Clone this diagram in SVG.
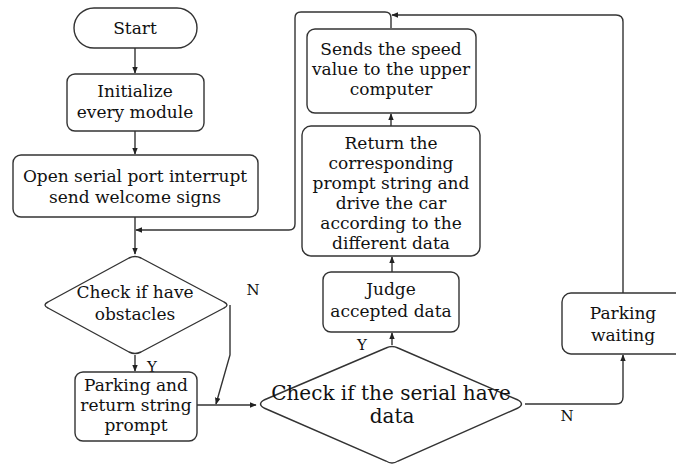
<svg xmlns="http://www.w3.org/2000/svg" width="676" height="466" viewBox="0 0 676 466">
<defs>
<marker id="ah" viewBox="0 0 10 10" refX="9" refY="5" markerWidth="7" markerHeight="7" orient="auto" markerUnits="userSpaceOnUse">
<path d="M0,1 L10,5 L0,9 z" fill="#222"/>
</marker>
<style>
.n{fill:#fff;stroke:#333;stroke-width:1.4}
.t{font-family:"DejaVu Serif","Liberation Serif",serif;font-size:17px;fill:#111;text-anchor:middle}
.big{font-size:20px}
.lb{font-family:"DejaVu Serif","Liberation Serif",serif;font-size:15px;fill:#111;text-anchor:middle}
.c{fill:none;stroke:#333;stroke-width:1.4}
</style>
</defs>
<rect width="676" height="466" fill="#fff"/>
<g id="connectors">
<path class="c" d="M135,48 V73" marker-end="url(#ah)"/>
<path class="c" d="M135,131 V154" marker-end="url(#ah)"/>
<path class="c" d="M135,217 V254" marker-end="url(#ah)"/>
<path class="c" d="M391,28 V18 Q391,12 385,12 H301 Q295,12 295,18 V224 Q295,230 289,230 H136" marker-end="url(#ah)"/>
<path class="c" d="M135,355 V371" marker-end="url(#ah)"/>
<path class="c" d="M230,305 V355 L216,404" marker-end="url(#ah)"/>
<path class="c" d="M197,405 H256" marker-end="url(#ah)"/>
<path class="c" d="M392,345 V333" marker-end="url(#ah)"/>
<path class="c" d="M392,272 V257" marker-end="url(#ah)"/>
<path class="c" d="M391,126 V114" marker-end="url(#ah)"/>
<path class="c" d="M525,404 H616 Q623,404 623,397 V355" marker-end="url(#ah)"/>
<path class="c" d="M623,293 V22 Q623,15 616,15 H392" marker-end="url(#ah)"/>
<text class="lb" x="253" y="295">N</text>
<text class="lb" x="152" y="372">Y</text>
<text class="lb" x="362" y="350">Y</text>
<text class="lb" x="567" y="421">N</text>
</g>
<g id="start">
<rect class="n" x="74" y="8" width="123" height="40" rx="20"/>
<text class="t" x="135" y="34">Start</text>
</g>
<g id="init">
<rect class="n" x="67" y="74" width="137" height="57" rx="8"/>
<text class="t" x="135" y="97">Initialize</text>
<text class="t" x="135" y="118">every module</text>
</g>
<g id="open">
<rect class="n" x="13" y="155" width="245" height="62" rx="8"/>
<text class="t" x="135" y="182">Open serial port interrupt</text>
<text class="t" x="135" y="203">send welcome signs</text>
</g>
<g id="obstacles">
<path class="n" d="M129,258 Q135,255 141,258 L224,302 Q230,305 224,308 L141,352 Q135,355 129,352 L48,308 Q42,305 48,302 Z"/>
<text class="t" x="135" y="298">Check if have</text>
<text class="t" x="135" y="320">obstacles</text>
</g>
<g id="parking">
<rect class="n" x="75" y="372" width="122" height="69" rx="8"/>
<text class="t" x="136" y="391">Parking and</text>
<text class="t" x="136" y="411">return string</text>
<text class="t" x="136" y="431">prompt</text>
</g>
<g id="serial">
<path class="n" d="M386,348 Q392,345 398,348 L518,400 Q525,404 518,408 L398,461 Q392,465 386,461 L264,408 Q257,404 264,400 Z"/>
<text class="t big" x="391" y="400">Check if the serial have</text>
<text class="t big" x="392" y="423">data</text>
</g>
<g id="judge">
<rect class="n" x="323" y="272" width="136" height="60" rx="8"/>
<text class="t" x="391" y="295">Judge</text>
<text class="t" x="391" y="317">accepted data</text>
</g>
<g id="return">
<rect class="n" x="302" y="126" width="178" height="130" rx="9"/>
<text class="t" x="391" y="149">Return the</text>
<text class="t" x="391" y="169">corresponding</text>
<text class="t" x="391" y="189">prompt string and</text>
<text class="t" x="391" y="209">drive the car</text>
<text class="t" x="391" y="229">according to the</text>
<text class="t" x="391" y="249">different data</text>
</g>
<g id="sends">
<rect class="n" x="307" y="29" width="169" height="84" rx="8"/>
<text class="t" x="391" y="55">Sends the speed</text>
<text class="t" x="391" y="75">value to the upper</text>
<text class="t" x="391" y="95">computer</text>
</g>
<g id="waiting">
<rect class="n" x="562" y="293" width="124" height="61" rx="9"/>
<text class="t" x="623" y="319">Parking</text>
<text class="t" x="623" y="341">waiting</text>
</g>
</svg>
